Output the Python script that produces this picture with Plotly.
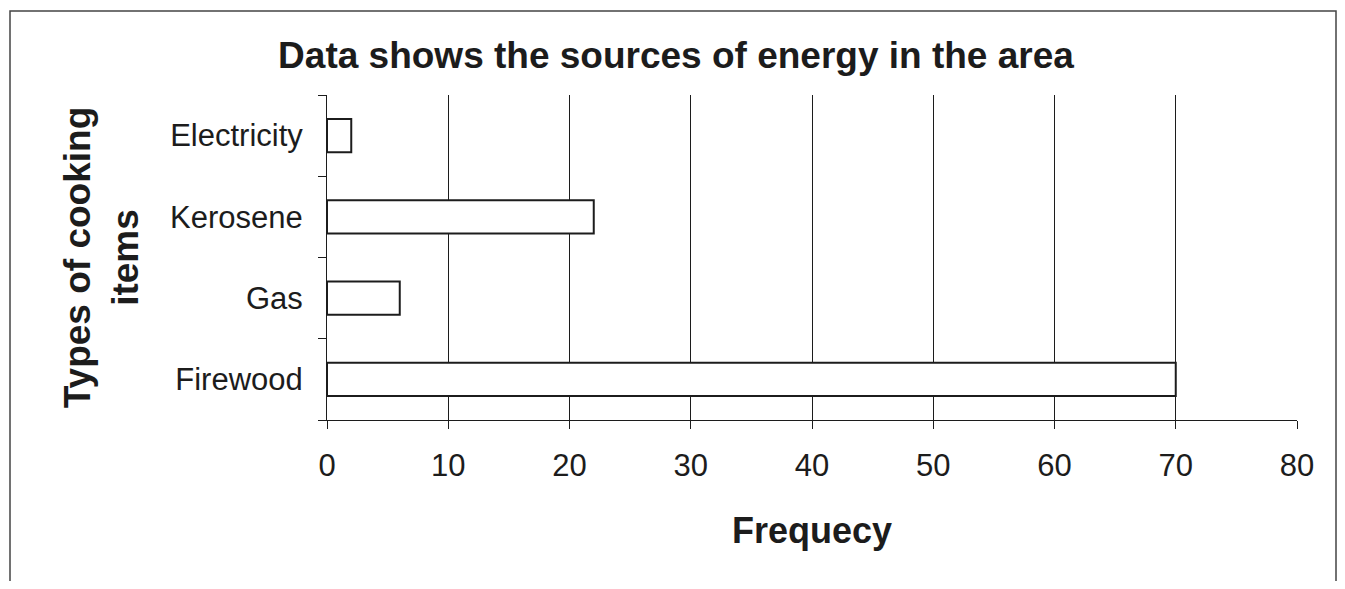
import plotly.graph_objects as go

categories = ["Firewood", "Gas", "Kerosene", "Electricity"]
frequency = [70, 6, 22, 2]
x_ticks = [0, 10, 20, 30, 40, 50, 60, 70, 80]

FONT = "Liberation Sans, Arial, sans-serif"
INK = "#1c1c1c"

fig = go.Figure()
fig.add_trace(go.Bar(
    y=categories, x=frequency, orientation="h",
    marker=dict(color="white", line=dict(color=INK, width=2)),
    showlegend=False,
))

# page body adds an 8px offset; work in figure coordinates
OFF = 8
W, H = 1345 - 2 * OFF, 589 - 2 * OFF
L, T = 327 - OFF, 95 - OFF
R = W - (1297 - OFF)
B = H - (420 - OFF)
pw, ph = W - L - R, H - T - B

def px(x):
    return (x - OFF - L) / pw

def py(y):
    return (H - B - (y - OFF)) / ph

fig.update_layout(
    width=W, height=H,
    margin=dict(l=L, r=R, t=T, b=B),
    paper_bgcolor="white", plot_bgcolor="white",
    bargap=0.59,
    font=dict(family=FONT, color=INK),
    title=dict(text="<b>Data shows the sources of energy in the area</b>",
               x=(676 - OFF) / W, xanchor="center", y=1 - (55 - OFF) / H, yanchor="middle",
               font=dict(size=37, family=FONT, color=INK)),
    xaxis=dict(range=[0, 80], tickvals=x_ticks, ticktext=[str(v) for v in x_ticks],
               showgrid=True, gridcolor=INK, gridwidth=1,
               showline=True, linecolor=INK, linewidth=1,
               ticks="outside", ticklen=8, tickcolor=INK,
               ticklabelstandoff=10,
               tickfont=dict(size=31, family=FONT, color=INK),
               zeroline=False,
               title=dict(text="<b>Frequecy</b>", standoff=35,
                          font=dict(size=36, family=FONT, color=INK))),
    yaxis=dict(categoryorder="array", categoryarray=categories,
               showline=True, linecolor=INK, linewidth=1,
               ticks="outside", ticklen=8, tickcolor=INK, tickson="boundaries",
               ticklabelstandoff=17,
               showgrid=False,
               tickfont=dict(size=31, family=FONT, color=INK),
               title=dict(text="<b>Types of cooking<br>items</b>", standoff=20,
                          font=dict(size=37, family=FONT, color=INK))),
    shapes=[dict(type="rect", xref="paper", yref="paper",
                 x0=px(10), x1=px(1336), y0=py(640), y1=py(11),
                 line=dict(color="#444", width=1.5), fillcolor="rgba(0,0,0,0)")],
)

fig.write_html("out.html")
